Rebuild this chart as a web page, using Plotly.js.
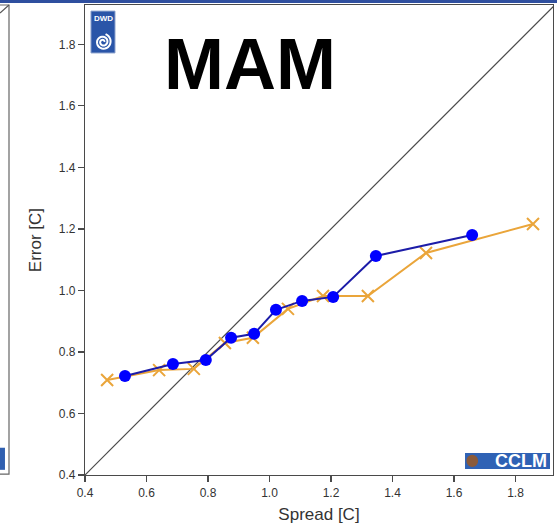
<!DOCTYPE html>
<html>
<head>
<meta charset="utf-8">
<script src="https://cdn.plot.ly/plotly-3.0.1.min.js"></script>
<style>
html,body{margin:0;padding:0;background:#fff;}
#chart{width:557px;height:532px;}
</style>
</head>
<body>
<div id="chart"></div>
<script>
// Data (MAM)
const blueSpread = [0.530, 0.686, 0.793, 0.875, 0.950, 1.021, 1.106, 1.207, 1.346, 1.659];
const blueError  = [0.722, 0.761, 0.774, 0.846, 0.859, 0.937, 0.966, 0.979, 1.112, 1.180];
const orangeSpread = [0.472, 0.641, 0.754, 0.855, 0.946, 1.060, 1.174, 1.320, 1.509, 1.857];
const orangeError  = [0.709, 0.741, 0.745, 0.829, 0.846, 0.940, 0.982, 0.982, 1.122, 1.216];
const diagonal = [0.4, 1.95];
const tickValues = [0.4, 0.6, 0.8, 1.0, 1.2, 1.4, 1.6, 1.8];
const tickLabels = ['0.4', '0.6', '0.8', '1.0', '1.2', '1.4', '1.6', '1.8'];

const FONT = 'Liberation Sans, Arial, Helvetica, sans-serif';

const traces = [
  {
    x: diagonal, y: diagonal, mode: 'lines', type: 'scatter',
    line: {color: '#4a4a4a', width: 1.2}, hoverinfo: 'skip', showlegend: false
  },
  {
    x: orangeSpread, y: orangeError, mode: 'lines+markers', type: 'scatter',
    line: {color: '#eaa53a', width: 2},
    marker: {symbol: 'x-thin-open', size: 12, color: '#eaa53a', line: {color: '#eaa53a', width: 2}},
    showlegend: false
  },
  {
    x: blueSpread, y: blueError, mode: 'lines+markers', type: 'scatter',
    line: {color: '#1c1ca8', width: 2},
    marker: {symbol: 'circle', size: 12, color: '#0000ff', line: {width: 0}},
    showlegend: false
  }
];

// DWD spiral decoration path
function spiralPath(cx, cy, rx, ry) {
  let p = '';
  const turns = 2.2, n = 60;
  for (let i = 0; i <= n; i++) {
    const t = i / n;
    const a = t * turns * 2 * Math.PI;
    const r = 0.15 + 0.85 * t;
    const x = cx + rx * r * Math.cos(a);
    const y = cy + ry * r * Math.sin(a);
    p += (i === 0 ? 'M' : 'L') + x.toFixed(4) + ',' + y.toFixed(4);
  }
  return p;
}

const shapes = [
  {type: 'rect', xref: 'paper', yref: 'paper', x0: -0.2, x1: 1.02, y0: 1.004, y1: 1.02,
   line: {width: 0}, fillcolor: '#2f4f9f', layer: 'above'},
  {type: 'rect', xref: 'paper', yref: 'paper', x0: -0.25, x1: -0.1624, y0: 0.002, y1: 1.0,
   line: {color: '#666', width: 1.2}, fillcolor: 'rgba(0,0,0,0)'},
  {type: 'line', xref: 'paper', yref: 'paper', x0: -0.1816, y0: 0.983, x1: -0.1624, y1: 1.0,
   line: {color: '#555', width: 1.2}},
  {type: 'rect', xref: 'paper', yref: 'paper', x0: -0.19, x1: -0.171, y0: 0.011, y1: 0.058,
   line: {width: 0}, fillcolor: '#2f5fb0'},
  {type: 'rect', xref: 'paper', yref: 'paper', x0: 0.0128, x1: 0.0641, y0: 0.898, y1: 0.987,
   line: {color: '#8aa0cc', width: 1}, fillcolor: '#2a55a8', layer: 'above'},
  {type: 'path', xref: 'paper', yref: 'paper', path: spiralPath(0.0385, 0.9215, 0.0175, 0.0175 * 468 / 470),
   line: {color: '#ffffff', width: 2}, layer: 'above'},
  {type: 'rect', xref: 'paper', yref: 'paper', x0: 0.812, x1: 0.9936, y0: 0.0128, y1: 0.0468,
   line: {width: 0}, fillcolor: '#2f62b5', layer: 'above'},
  {type: 'circle', xref: 'paper', yref: 'paper', x0: 0.815, x1: 0.840, y0: 0.017, y1: 0.043,
   line: {width: 0}, fillcolor: '#8a5a3a', layer: 'above'}
];

const annotations = [
  {text: '<b>MAM</b>', xref: 'paper', yref: 'paper', x: 0.3526, y: 0.874,
   xanchor: 'center', yanchor: 'middle', showarrow: false,
   font: {family: FONT, size: 72, color: '#000'}},
  {text: '<b>DWD</b>', xref: 'paper', yref: 'paper', x: 0.0385, y: 0.972,
   xanchor: 'center', yanchor: 'middle', showarrow: false,
   font: {family: FONT, size: 8, color: '#fff'}},
  {text: '<b>CCLM</b>', xref: 'paper', yref: 'paper', x: 0.992, y: 0.030,
   xanchor: 'right', yanchor: 'middle', showarrow: false,
   font: {family: FONT, size: 18, color: '#fff'}}
];

const axisCommon = {
  showline: true, mirror: true, linecolor: '#4a4a4a', linewidth: 1.2,
  ticks: 'outside', ticklen: 6, tickcolor: '#4a4a4a', tickwidth: 1.2,
  showgrid: false, zeroline: false,
  tickvals: tickValues, ticktext: tickLabels,
  tickfont: {family: FONT, size: 12, color: '#333'}
};

const layout = {
  width: 557, height: 532,
  margin: {l: 85, r: 4, t: 5, b: 57},
  paper_bgcolor: '#fff', plot_bgcolor: '#fff',
  font: {family: FONT},
  xaxis: Object.assign({}, axisCommon, {
    range: [0.4, 1.922],
    title: {text: 'Spread [C]', font: {family: FONT, size: 17, color: '#333'}, standoff: 9}
  }),
  yaxis: Object.assign({}, axisCommon, {
    range: [0.4, 1.928],
    title: {text: 'Error [C]', font: {family: FONT, size: 17, color: '#333'}, standoff: 12}
  }),
  shapes: shapes,
  annotations: annotations,
  showlegend: false
};

Plotly.newPlot('chart', traces, layout, {displayModeBar: false, staticPlot: true});
</script>
</body>
</html>
